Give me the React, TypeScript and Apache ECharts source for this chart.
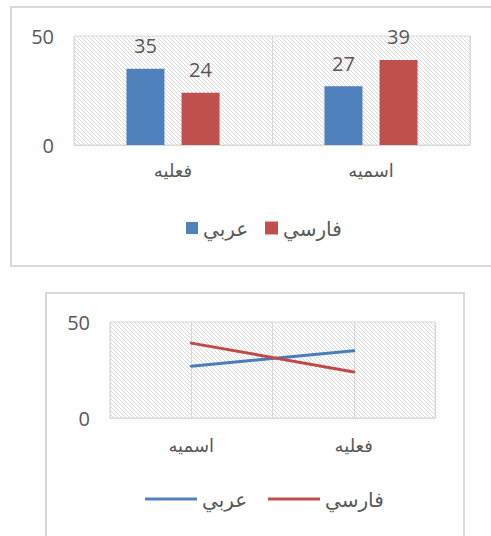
import React, { useEffect, useRef } from "react";
import * as echarts from "echarts";

// ---- Data ----
const barCategories = ["فعليه", "اسميه"];
const barArabic = [35, 27];
const barPersian = [24, 39];

const lineCategories = ["اسميه", "فعليه"];
const lineArabic = [27, 35];
const linePersian = [39, 24];

const seriesNames = ["عربي", "فارسي"];
const yTicks = { min: 0, max: 50, interval: 50 };

const BLUE = "#4f81bd";
const RED = "#c0504d";
const LINE_BLUE = "#4a7ebb";
const LINE_RED = "#be4b48";
const TEXT = "#595959";
const GRIDC = "#d9d9d9";
const FONT = "'Open Sans', 'DejaVu Sans', sans-serif";

function makeHatch(): HTMLCanvasElement {
  const s = 4;
  const c = document.createElement("canvas");
  c.width = s;
  c.height = s;
  const ctx = c.getContext("2d")!;
  ctx.fillStyle = "#ffffff";
  ctx.fillRect(0, 0, s, s);
  ctx.fillStyle = "#d9d9d9";
  for (let i = 0; i < s; i++) ctx.fillRect(i, i, 1, 1);
  return c;
}

export default function App() {
  const ref = useRef<HTMLDivElement>(null);
  useEffect(() => {
    if (!ref.current) return;
    const chart = echarts.init(ref.current, null, { renderer: "svg" });
    const hatch: any = { image: makeHatch(), repeat: "repeat", imageWidth: 4, imageHeight: 4 };
    const yAxisCommon = {
      type: "value",
      min: yTicks.min,
      max: yTicks.max,
      interval: yTicks.interval,
      axisLine: { show: false },
      axisTick: { show: false },
      splitLine: { show: false },
      axisLabel: { color: TEXT, fontSize: 20, fontFamily: FONT, margin: 20 },
    };
    const legendCommon = {
      textStyle: { color: TEXT, fontSize: 20, fontFamily: FONT },
      itemGap: 5,
      padding: 0,
    };
    chart.setOption({
      animation: false,
      backgroundColor: "#ffffff",
      graphic: [
        {
          type: "rect",
          shape: { x: 11, y: 7, width: 500, height: 259 },
          style: { fill: "none", stroke: GRIDC, lineWidth: 2 },
        },
        {
          type: "rect",
          shape: { x: 46, y: 293, width: 418, height: 260 },
          style: { fill: "none", stroke: GRIDC, lineWidth: 2 },
        },
      ],
      grid: [
        {
          left: 74, top: 36, width: 396, height: 109,
          show: true, backgroundColor: hatch, borderColor: GRIDC, borderWidth: 1,
        },
        {
          left: 110, top: 322, width: 325, height: 96,
          show: true, backgroundColor: hatch, borderColor: GRIDC, borderWidth: 1,
        },
      ],
      legend: [
        { ...legendCommon, data: [seriesNames[0]], left: 186, top: 218, icon: "rect", itemWidth: 12, itemHeight: 12 },
        { ...legendCommon, data: [seriesNames[1]], left: 265, top: 218, icon: "rect", itemWidth: 13, itemHeight: 13 },
        { ...legendCommon, data: [seriesNames[0]], left: 145, top: 489, icon: "rect", itemWidth: 52, itemHeight: 3 },
        { ...legendCommon, data: [seriesNames[1]], left: 268, top: 489, icon: "rect", itemWidth: 52, itemHeight: 3 },
      ],
      xAxis: [
        {
          type: "category",
          gridIndex: 0,
          data: barCategories,
          axisLine: { show: true, lineStyle: { color: GRIDC } },
          axisTick: { show: false },
          splitLine: { show: true, lineStyle: { color: GRIDC } },
          axisLabel: { color: TEXT, fontSize: 18, fontFamily: FONT, margin: 16 },
        },
        {
          type: "category",
          gridIndex: 1,
          data: lineCategories,
          axisLine: { show: true, lineStyle: { color: GRIDC } },
          axisTick: { show: false },
          splitLine: { show: false },
          axisLabel: { color: TEXT, fontSize: 18, fontFamily: FONT, margin: 18 },
        },
        {
          type: "value",
          gridIndex: 1,
          min: 0,
          max: 4,
          interval: 1,
          show: true,
          axisLine: { show: false },
          axisTick: { show: false },
          axisLabel: { show: false },
          splitLine: { show: true, lineStyle: { color: GRIDC } },
        },
      ],
      yAxis: [
        { ...yAxisCommon, gridIndex: 0 },
        { ...yAxisCommon, gridIndex: 1 },
      ],
      series: [
        {
          type: "bar",
          name: seriesNames[0],
          xAxisIndex: 0,
          yAxisIndex: 0,
          data: barArabic,
          barWidth: 38,
          barGap: "45%",
          itemStyle: { color: BLUE },
          label: { show: true, position: "top", distance: 13, color: TEXT, fontSize: 20, fontFamily: FONT },
        },
        {
          type: "bar",
          name: seriesNames[1],
          xAxisIndex: 0,
          yAxisIndex: 0,
          data: barPersian,
          barWidth: 38,
          barGap: "45%",
          itemStyle: { color: RED },
          label: { show: true, position: "top", distance: 13, color: TEXT, fontSize: 20, fontFamily: FONT },
        },
        {
          type: "line",
          name: seriesNames[0],
          xAxisIndex: 1,
          yAxisIndex: 1,
          data: lineArabic,
          symbol: "none",
          itemStyle: { color: LINE_BLUE },
          lineStyle: { color: LINE_BLUE, width: 3, cap: "round" },
        },
        {
          type: "line",
          name: seriesNames[1],
          xAxisIndex: 1,
          yAxisIndex: 1,
          data: linePersian,
          symbol: "none",
          itemStyle: { color: LINE_RED },
          lineStyle: { color: LINE_RED, width: 3, cap: "round" },
        },
      ],
    });
    return () => chart.dispose();
  }, []);
  return (
    <div
      ref={ref}
      style={{ position: "absolute", left: 0, top: 0, width: 491, height: 536 }}
    />
  );
}
